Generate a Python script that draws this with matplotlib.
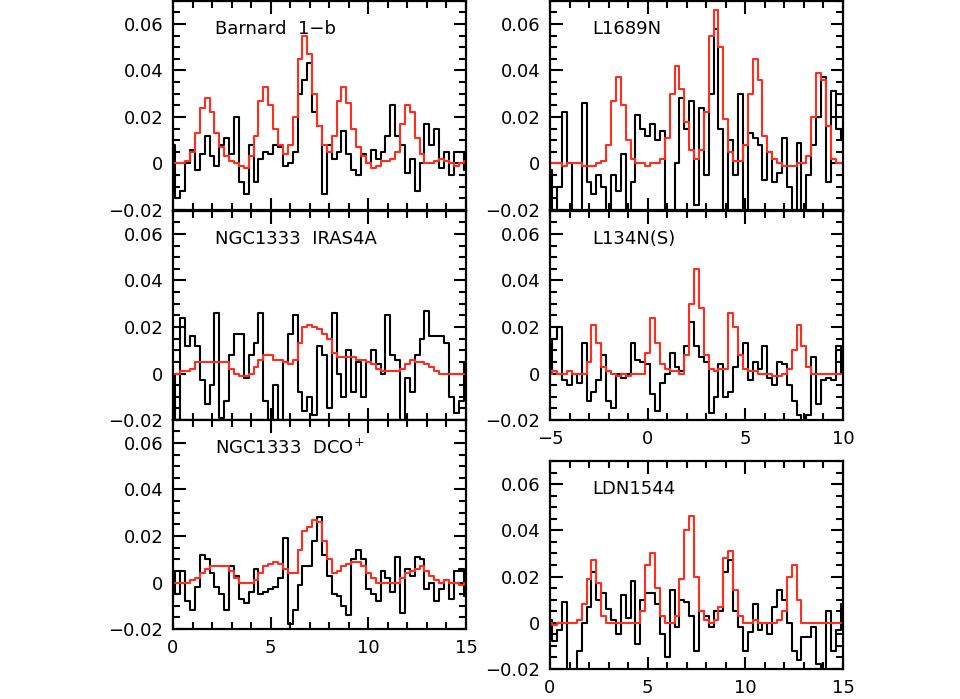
import numpy as np
import matplotlib
matplotlib.use('Agg')
import matplotlib.pyplot as plt
from matplotlib.ticker import MultipleLocator, FuncFormatter

# velocity grids (km/s), 0.25 channel spacing
vel_a = np.arange(0, 15.001, 0.25)      # 0 .. 15
vel_b = np.arange(-5, 10.001, 0.25)     # -5 .. 10

barnard_obs = [0.008, -0.015, -0.012, 0.0, 0.006, -0.003, 0.004, 0.012, 0.003, -0.001,
               0.008, 0.011, 0.004, 0.02, -0.008, -0.013, 0.008, -0.008, 0.002, 0.005,
               0.004, 0.008, 0.007, -0.001, 0.0, 0.005, 0.03, 0.036, 0.043, 0.022,
               0.016, -0.013, 0.008, 0.002, 0.005, 0.014, 0.004, -0.003, -0.005, 0.004,
               0.0, 0.006, 0.002, 0.005, 0.012, 0.025, 0.012, 0.008, -0.004, 0.002,
               -0.012, 0.0, 0.017, 0.008, 0.015, -0.002, 0.005, -0.005, 0.005, 0.005,
               -0.003]
barnard_mod = [0.0, 0.0, 0.0, 0.001, 0.005, 0.013, 0.024, 0.028, 0.022, 0.013,
               0.007, 0.003, 0.001, 0.0, -0.001, -0.002, 0.003, 0.012, 0.027, 0.033,
               0.025, 0.015, 0.008, 0.004, 0.008, 0.02, 0.045, 0.055, 0.047, 0.03,
               0.016, 0.008, 0.005, 0.012, 0.027, 0.033, 0.026, 0.015, 0.007, 0.003,
               0.0, -0.002, -0.001, 0.001, 0.001, 0.002, 0.005, 0.017, 0.025, 0.022,
               0.011, 0.004, 0.0, 0.0, 0.001, 0.002, 0.001, 0.0, -0.001, 0.0,
               0.001]

iras4a_obs = [0.0, -0.02, 0.024, 0.012, 0.016, 0.012, -0.003, -0.013, -0.005, 0.026,
              -0.019, -0.012, 0.008, 0.017, 0.017, -0.002, 0.008, 0.013, 0.026, -0.012,
              -0.02, -0.005, -0.02, 0.005, 0.017, 0.025, -0.008, -0.016, -0.01, -0.018,
              0.012, 0.008, -0.015, 0.026, 0.0, -0.01, 0.01, -0.008, 0.005, -0.01,
              0.005, 0.01, 0.004, 0.0, 0.025, 0.008, 0.006, -0.02, -0.002, -0.008,
              0.008, 0.015, 0.027, 0.016, 0.016, 0.016, 0.013, -0.01, -0.017, -0.012,
              0.005]
iras4a_mod = [0.0, 0.0, 0.001, 0.001, 0.002, 0.005, 0.005, 0.005, 0.005, 0.005,
              0.005, 0.005, 0.002, 0.0, -0.001, -0.001, 0.0, 0.003, 0.006, 0.008,
              0.008, 0.006, 0.006, 0.005, 0.004, 0.006, 0.013, 0.02, 0.021, 0.02,
              0.019, 0.017, 0.015, 0.009, 0.007, 0.007, 0.007, 0.007, 0.006, 0.006,
              0.005, 0.004, 0.002, 0.001, 0.001, 0.001, 0.001, 0.002, 0.004, 0.006,
              0.005, 0.005, 0.004, 0.003, 0.001, 0.0, 0.0, 0.0, 0.0, 0.0,
              0.0]

dco_obs = [0.005, -0.005, 0.005, -0.008, -0.012, -0.002, 0.012, 0.01, 0.004, -0.002,
           -0.005, -0.012, 0.007, 0.003, -0.007, -0.009, -0.004, 0.006, -0.005, -0.004,
           -0.003, -0.002, 0.002, 0.019, -0.018, -0.012, -0.001, 0.007, 0.007, 0.018,
           0.028, 0.012, 0.003, -0.005, -0.006, -0.01, -0.014, 0.01, 0.014, 0.01,
           -0.003, -0.005, -0.008, 0.005, 0.002, -0.004, 0.011, -0.013, 0.006, 0.003,
           0.011, 0.01, -0.003, 0.0, -0.008, -0.003, 0.001, -0.007, 0.005, 0.006,
           -0.006]
dco_mod = [0.0, 0.0, 0.0, 0.0, 0.001, 0.002, 0.004, 0.006, 0.007, 0.007,
           0.007, 0.007, 0.005, 0.002, 0.0, 0.0, 0.0, 0.001, 0.004, 0.007,
           0.008, 0.009, 0.008, 0.006, 0.004, 0.004, 0.014, 0.022, 0.024, 0.027,
           0.026, 0.018, 0.01, 0.004, 0.005, 0.007, 0.008, 0.009, 0.009, 0.007,
           0.004, 0.002, 0.0, 0.0, 0.0, 0.0, 0.0, 0.002, 0.004, 0.005,
           0.006, 0.007, 0.005, 0.003, 0.001, 0.0, 0.001, 0.0, 0.0, -0.001,
           0.0]

l1689_obs = [-0.003, -0.025, -0.01, 0.022, 0.0, -0.02, -0.025, 0.026, -0.008, -0.013,
             -0.005, -0.01, -0.025, -0.005, -0.012, 0.004, -0.02, -0.008, 0.021, 0.015,
             0.012, 0.017, 0.01, 0.014, -0.02, -0.025, 0.0, 0.028, 0.015, 0.027,
             -0.018, 0.024, -0.005, 0.03, 0.058, 0.015, -0.025, 0.01, -0.005, 0.03,
             -0.02, 0.013, 0.011, 0.008, -0.007, 0.005, -0.008, -0.004, 0.011, -0.01,
             -0.02, 0.009, -0.025, -0.005, 0.008, 0.02, 0.037, -0.008, 0.031, 0.015,
             0.01]
l1689_mod = [0.0, 0.0, 0.0, -0.001, 0.0, 0.0, 0.0, -0.001, -0.001, -0.001,
             0.0, 0.001, 0.008, 0.027, 0.037, 0.025, 0.01, 0.002, 0.0, 0.0,
             -0.001, 0.0, 0.0, 0.002, 0.011, 0.03, 0.042, 0.032, 0.018, 0.006,
             0.002, 0.006, 0.022, 0.055, 0.066, 0.05, 0.019, 0.005, 0.001, 0.001,
             0.008, 0.03, 0.045, 0.036, 0.012, 0.005, 0.002, 0.0, -0.001, -0.001,
             -0.001, 0.0, 0.0, 0.003, 0.02, 0.039, 0.036, 0.016, 0.002, 0.0,
             0.0]

l134_obs = [0.002, 0.015, 0.02, -0.003, -0.005, 0.0, -0.004, 0.013, -0.012, -0.008,
            -0.003, 0.008, -0.012, -0.015, 0.0, -0.002, 0.0, 0.013, 0.006, 0.005,
            0.004, -0.009, -0.016, -0.004, 0.0, 0.009, 0.003, 0.001, 0.012, 0.022,
            0.012, 0.007, 0.005, -0.017, -0.01, 0.004, -0.01, -0.008, 0.003, 0.008,
            0.013, -0.003, 0.005, 0.002, 0.012, -0.002, -0.005, 0.005, 0.004, -0.005,
            -0.012, -0.018, -0.02, -0.018, 0.007, -0.013, -0.003, -0.002, -0.003, 0.012,
            0.0]
l134_mod = [0.0, 0.001, 0.0, 0.0, 0.001, 0.0, 0.0, 0.0, 0.005, 0.021,
            0.013, 0.003, 0.001, 0.0, -0.001, 0.0, -0.001, 0.0, 0.0, 0.0,
            0.009, 0.024, 0.013, 0.004, 0.002, 0.001, 0.001, 0.0, 0.008, 0.03,
            0.045, 0.028, 0.008, 0.002, 0.001, 0.002, 0.002, 0.026, 0.02, 0.008,
            0.002, 0.001, 0.001, 0.0, 0.0, 0.0, -0.001, -0.001, 0.0, 0.002,
            0.01, 0.021, 0.012, 0.003, 0.0, 0.0, 0.0, 0.0, 0.0, 0.0,
            0.0]

ldn1544_obs = [0.001, -0.008, -0.003, 0.009, -0.02, -0.02, -0.012, 0.0, 0.007, 0.022,
               0.01, 0.013, 0.006, 0.001, -0.005, 0.012, 0.002, 0.018, -0.009, 0.01,
               0.013, 0.013, 0.008, -0.005, -0.015, 0.014, -0.002, 0.01, 0.009, 0.003,
               -0.012, 0.005, 0.003, -0.002, 0.005, 0.005, 0.022, 0.027, 0.005, -0.002,
               -0.012, -0.004, 0.008, -0.003, 0.0, -0.005, 0.007, 0.014, 0.01, 0.0,
               -0.012, -0.016, -0.006, -0.006, -0.002, -0.018, -0.02, 0.005, -0.012, -0.003,
               0.008]
ldn1544_mod = [0.0, -0.001, 0.0, 0.0, 0.0, 0.0, 0.001, 0.008, 0.019, 0.027,
               0.017, 0.003, 0.0, 0.0, 0.0, 0.0, 0.0, 0.0, 0.0, 0.005,
               0.025, 0.03, 0.015, 0.003, 0.0, 0.0, 0.003, 0.019, 0.04, 0.046,
               0.02, 0.005, 0.001, 0.0, 0.001, 0.007, 0.028, 0.031, 0.014, 0.003,
               0.0, 0.0, 0.001, 0.0, 0.0, 0.0, 0.0, 0.001, 0.005, 0.02,
               0.025, 0.01, 0.0, 0.0, 0.0, 0.0, 0.0, 0.0, 0.0, 0.0,
               0.0]

RED = '#ff2d1e'
plt.rcParams['font.family'] = 'DejaVu Sans'
plt.rcParams['font.size'] = 13


def yfmt(v, pos):
    if abs(v) < 1e-9:
        return '0'
    return f'{v:.2f}'.replace('-', '\u2212')


def panel(fig, rect, vel, obs, mod, label, xlim, xlabels):
    ax = fig.add_axes(rect)
    ax.plot(vel, obs, drawstyle='steps-mid', color='black', lw=1.5)
    ax.plot(vel, mod, drawstyle='steps-mid', color=RED, lw=1.5)
    ax.set_xlim(*xlim)
    ax.set_ylim(-0.02, 0.07)
    ax.xaxis.set_major_locator(MultipleLocator(5))
    ax.xaxis.set_minor_locator(MultipleLocator(1))
    ax.yaxis.set_major_locator(MultipleLocator(0.02))
    ax.yaxis.set_minor_locator(MultipleLocator(0.005))
    ax.yaxis.set_major_formatter(FuncFormatter(yfmt))
    ax.xaxis.set_major_formatter(FuncFormatter(lambda v, p: f'{v:g}'.replace('-', '\u2212')))
    ax.tick_params(which='both', direction='in', top=True, right=True, width=1.5)
    ax.tick_params(which='major', length=9)
    ax.tick_params(which='minor', length=5)
    ax.tick_params(axis='y', pad=7)
    ax.tick_params(axis='x', pad=7, labelbottom=xlabels)
    for s in ax.spines.values():
        s.set_linewidth(1.6)
    ax.text(0.143, 0.865, label, transform=ax.transAxes, va='center', ha='left')
    return ax


fig = plt.figure(figsize=(9.6, 6.99), dpi=100)

lx, rx, w, h = 0.1802, 0.5729, 0.3052, 0.2995
panel(fig, [lx, 0.6996, w, h], vel_a, barnard_obs, barnard_mod, 'Barnard  1\u2212b', (0, 15), False)
panel(fig, [lx, 0.3991, w, h], vel_a, iras4a_obs, iras4a_mod, 'NGC1333  IRAS4A', (0, 15), False)
panel(fig, [lx, 0.1001, w, h], vel_a, dco_obs, dco_mod, 'NGC1333  DCO$^{+}$', (0, 15), True)
panel(fig, [rx, 0.6996, w, h], vel_b, l1689_obs, l1689_mod, 'L1689N', (-5, 10), False)
panel(fig, [rx, 0.3991, w, h], vel_b, l134_obs, l134_mod, 'L134N(S)', (-5, 10), True)
panel(fig, [rx, 0.0429, w, 0.2976], vel_a, ldn1544_obs, ldn1544_mod, 'LDN1544', (0, 15), True)

fig.savefig('out.png', dpi=100)
